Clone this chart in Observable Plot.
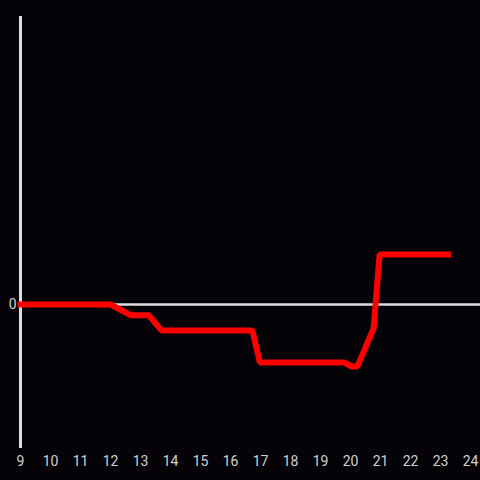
<!DOCTYPE html>
<html>
<head>
<meta charset="utf-8">
<script src="https://cdn.jsdelivr.net/npm/d3@7"></script>
<script src="https://cdn.jsdelivr.net/npm/@observablehq/plot@0.6"></script>
<style>
  html, body { margin: 0; padding: 0; background: #050307; }
  #chart { width: 480px; height: 480px; }
  #chart svg text { font-size: 14px; }
</style>
</head>
<body>
<div id="chart"></div>
<script>
const hours  = [9, 12, 12.67, 13.27, 13.7, 16.73, 16.98, 19.8, 20.03, 20.23, 20.77, 20.97, 23.25];
const values = [0, 0, -7.4, -7.4, -18, -18, -40.3, -40.3, -43, -43, -16.7, 34.7, 34.7];
const xTicks = [9, 10, 11, 12, 13, 14, 15, 16, 17, 18, 19, 20, 21, 22, 23, 24];
const yTicks = [0];

const data = hours.map((h, i) => ({hour: h, value: values[i]}));

const chart = Plot.plot({
  width: 480,
  height: 480,
  marginLeft: 20,
  marginRight: 0,
  marginTop: 16,
  marginBottom: 32,
  style: {background: "#050307", color: "#d0d0d0", fontFamily: "Roboto, sans-serif", fontSize: "14px"},
  x: {domain: [9, 24 + 1/3], ticks: xTicks, tickSize: 0, tickPadding: 8, label: null},
  y: {domain: [-100, 200], ticks: yTicks, tickSize: 0, tickPadding: 4, label: null},
  marks: [
    Plot.ruleY([0], {stroke: "#dddddd", strokeWidth: 2.5}),
    Plot.ruleX([9], {stroke: "#dddddd", strokeWidth: 3}),
    Plot.line(data, {x: "hour", y: "value", stroke: "#ff0000", strokeWidth: 6, strokeLinecap: "square", strokeLinejoin: "miter"})
  ]
});
document.getElementById("chart").appendChild(chart);
</script>
</body>
</html>
